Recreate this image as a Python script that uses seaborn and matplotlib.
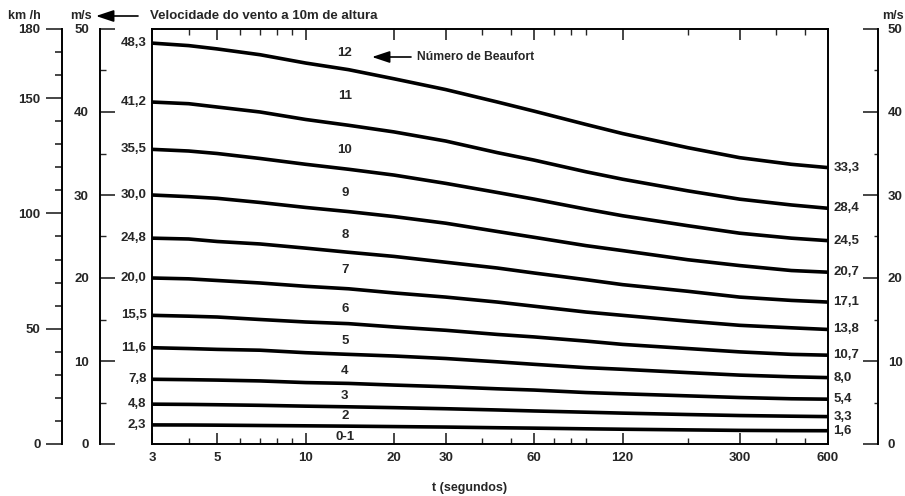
import numpy as np
import pandas as pd
import seaborn as sns
import matplotlib
matplotlib.use('Agg')
from matplotlib import pyplot as plt
from matplotlib.ticker import FixedLocator, MultipleLocator, LogLocator, NullFormatter

sns.set_theme(style="ticks")
plt.rcParams['font.family'] = ['Liberation Sans', 'DejaVu Sans']

# wind speed (m/s), per Beaufort number, at these durations (s)
t_seconds = [3, 4, 5, 7, 10, 14, 20, 30, 45, 60, 90, 120, 200, 300, 450, 600]
v_b12 = [48.3, 48.0, 47.6, 46.9, 45.9, 45.1, 44.0, 42.7, 41.2, 40.1, 38.5, 37.4, 35.7, 34.5, 33.7, 33.3]
v_b11 = [41.2, 41.0, 40.6, 40.0, 39.1, 38.4, 37.6, 36.5, 35.1, 34.2, 32.8, 31.9, 30.5, 29.5, 28.8, 28.4]
v_b10 = [35.5, 35.3, 35.0, 34.4, 33.7, 33.1, 32.4, 31.4, 30.3, 29.5, 28.3, 27.5, 26.3, 25.4, 24.8, 24.5]
v_b9 = [30.0, 29.8, 29.6, 29.1, 28.5, 28.0, 27.4, 26.6, 25.6, 24.9, 23.9, 23.3, 22.2, 21.5, 20.9, 20.7]
v_b8 = [24.8, 24.7, 24.4, 24.1, 23.6, 23.1, 22.6, 21.9, 21.2, 20.6, 19.8, 19.2, 18.4, 17.7, 17.3, 17.1]
v_b7 = [20.0, 19.9, 19.7, 19.4, 19.0, 18.7, 18.2, 17.7, 17.1, 16.6, 15.9, 15.5, 14.8, 14.3, 14.0, 13.8]
v_b6 = [15.5, 15.4, 15.3, 15.0, 14.7, 14.5, 14.1, 13.7, 13.2, 12.9, 12.4, 12.0, 11.5, 11.1, 10.8, 10.7]
v_b5 = [11.6, 11.5, 11.4, 11.3, 11.0, 10.8, 10.6, 10.3, 9.9, 9.6, 9.2, 9.0, 8.6, 8.3, 8.1, 8.0]
v_b4 = [7.8, 7.75, 7.7, 7.6, 7.4, 7.3, 7.1, 6.9, 6.65, 6.5, 6.2, 6.05, 5.8, 5.6, 5.45, 5.4]
v_b3 = [4.8, 4.77, 4.73, 4.66, 4.56, 4.48, 4.38, 4.25, 4.1, 3.98, 3.83, 3.72, 3.55, 3.43, 3.35, 3.3]
v_b2 = [2.3, 2.29, 2.27, 2.23, 2.19, 2.15, 2.1, 2.04, 1.96, 1.91, 1.83, 1.78, 1.7, 1.64, 1.61, 1.6]

curves = {'12': v_b12, '11': v_b11, '10': v_b10, '9': v_b9, '8': v_b8, '7': v_b7,
          '6': v_b6, '5': v_b5, '4': v_b4, '3': v_b3, '2': v_b2}
beaufort_names = ['12', '11', '10', '9', '8', '7', '6', '5', '4', '3', '2', '0-1']
x_ticks = [3, 5, 10, 20, 30, 60, 120, 300, 600]

df = pd.DataFrame([(b, t, v) for b, vals in curves.items() for t, v in zip(t_seconds, vals)],
                  columns=['beaufort', 't', 'v'])

W, H = 905, 496
FS = 9.5
fig = plt.figure(figsize=(W / 100, H / 100), dpi=100)
bottom = (H - 444) / H
height = 415 / H
ax = fig.add_axes([152 / W, bottom, 676 / W, height])

sns.lineplot(data=df, x='t', y='v', units='beaufort', estimator=None, color='black',
             lw=2.6, ax=ax, legend=False)
ax.set_xscale('log')
ax.set_xlim(3, 600)
ax.set_ylim(0, 50)
ax.set_yticks([])
ax.xaxis.set_major_locator(FixedLocator(x_ticks))
ax.set_xticklabels([str(t) for t in x_ticks], fontweight='bold')
ax.xaxis.set_minor_locator(LogLocator(subs=np.arange(2, 10)))
ax.xaxis.set_minor_formatter(NullFormatter())
ax.tick_params(axis='x', which='major', direction='in', top=True, length=8, width=1.2,
               labelsize=FS, pad=6)
ax.tick_params(axis='x', which='minor', direction='in', top=True, length=4, width=1)
ax.set_xlabel('')
ax.set_ylabel('')
for s in ax.spines.values():
    s.set_linewidth(1.4)
    s.set_color('black')

# value labels at both ends
fmt = lambda v: f"{v:.1f}".replace('.', ',')
for b, vals in curves.items():
    ax.annotate(fmt(vals[0]), xy=(t_seconds[0], vals[0]), xytext=(-4, 0), textcoords='offset points',
                ha='right', va='center', fontsize=FS, fontweight='bold', annotation_clip=False)
    ax.annotate(fmt(vals[-1]), xy=(t_seconds[-1], vals[-1]), xytext=(4, 0), textcoords='offset points',
                ha='left', va='center', fontsize=FS, fontweight='bold', annotation_clip=False)

# Beaufort numbers between the curves
label_t = 13.6
label_y = [47.1, 41.9, 35.4, 30.2, 25.2, 21.0, 16.3, 12.4, 8.8, 5.8, 3.4, 0.8]
for name, y in zip(beaufort_names, label_y):
    ax.text(label_t, y, name, ha='center', va='center', fontsize=FS, fontweight='bold')

arrow = dict(arrowstyle='-|>,head_length=0.9,head_width=0.3', color='black',
             lw=1.2, mutation_scale=12, shrinkA=0, shrinkB=0)
ax.annotate('', xy=(372 / W, 1 - 57 / H), xytext=(411 / W, 1 - 57 / H),
            xycoords='figure fraction', textcoords='figure fraction', arrowprops=arrow)
fig.text(417 / W, 1 - 57 / H, 'Número de Beaufort', ha='left', va='center', fontsize=8.7,
         fontweight='bold')


def side_axis(x_px, ymax, side):
    a = fig.add_axes([x_px / W, bottom, 0.0001, height])
    a.set_ylim(0, ymax)
    a.set_xticks([])
    for k, s in a.spines.items():
        s.set_visible(k == side)
        s.set_linewidth(1.4)
        s.set_color('black')
    a.patch.set_visible(False)
    if side == 'right':
        a.yaxis.tick_right()
    return a


def bold_ticks(a):
    for lbl in a.get_yticklabels():
        lbl.set_fontweight('bold')


# km/h axis
ax_kmh = side_axis(62, 180, 'left')
ax_kmh.set_yticks([0, 50, 100, 150, 180])
ax_kmh.yaxis.set_minor_locator(MultipleLocator(10))
ax_kmh.tick_params(axis='y', which='major', direction='out', length=11.5, width=1.2,
                   labelsize=FS, pad=4)
ax_kmh.tick_params(axis='y', which='minor', direction='out', length=5, width=1.2)
bold_ticks(ax_kmh)

# m/s left
ax_ms = side_axis(100, 50, 'left')
ax_ms.set_yticks(range(0, 51, 10))
ax_ms.yaxis.set_minor_locator(MultipleLocator(5))
ax_ms.tick_params(axis='y', which='major', direction='in', length=11, width=1.2,
                  labelsize=FS, pad=8)
ax_ms.tick_params(axis='y', which='minor', direction='in', length=4, width=1)
bold_ticks(ax_ms)

# m/s right
ax_ms2 = side_axis(878, 50, 'right')
ax_ms2.set_yticks(range(0, 51, 10))
ax_ms2.yaxis.set_minor_locator(MultipleLocator(5))
ax_ms2.tick_params(axis='y', which='major', direction='in', length=11, width=1.2,
                   labelsize=FS, pad=7)
ax_ms2.tick_params(axis='y', which='minor', direction='in', length=3, width=1)
bold_ticks(ax_ms2)

# header texts
hdr = dict(ha='center', va='center', fontsize=9, fontweight='bold')
fig.text(24 / W, 1 - 16 / H, 'km /h', **hdr)
fig.text(81 / W, 1 - 16 / H, 'm/s', **hdr)
fig.text(893 / W, 1 - 16 / H, 'm/s', **hdr)
ax.annotate('', xy=(96 / W, 1 - 16 / H), xytext=(138 / W, 1 - 16 / H),
            xycoords='figure fraction', textcoords='figure fraction', arrowprops=arrow)
fig.text(150 / W, 1 - 16 / H, 'Velocidade do vento a 10m de altura', ha='left', va='center',
         fontsize=9.5, fontweight='bold')
fig.text(470 / W, 1 - 488 / H, 't (segundos)', ha='center', va='center', fontsize=9,
         fontweight='bold')

fig.savefig('out.png', dpi=100)
